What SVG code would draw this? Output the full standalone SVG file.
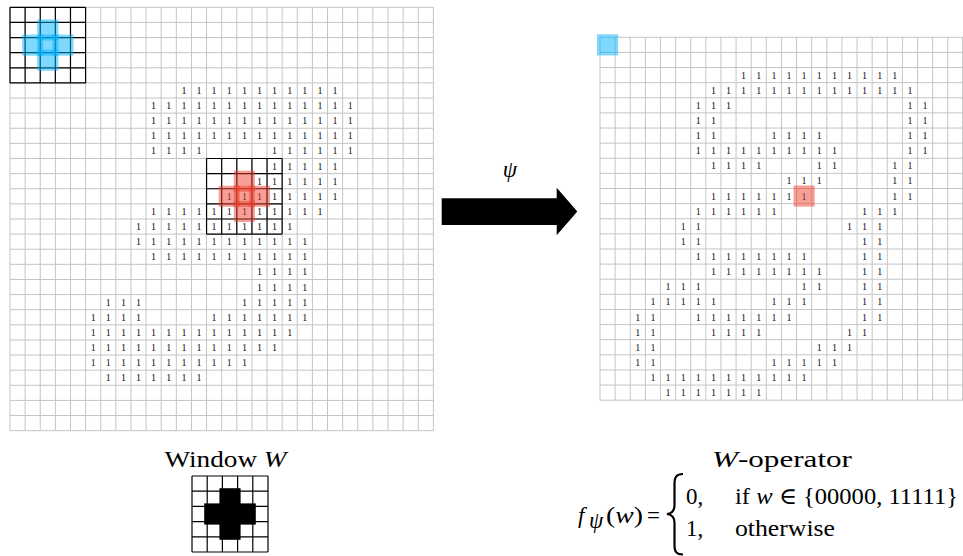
<svg xmlns="http://www.w3.org/2000/svg" width="963" height="556" viewBox="0 0 963 556">
<style>
.g{fill:none;stroke:#c4c4c4;stroke-width:1;vector-effect:non-scaling-stroke}
.k{fill:none;stroke:#000;stroke-width:1.2;vector-effect:non-scaling-stroke}
.o text{font-family:"Liberation Serif","DejaVu Serif",serif;font-size:10px;text-anchor:middle;fill:#111}
.hb{fill:#00b4ff;fill-opacity:.5}
.hr{fill:#f04030;fill-opacity:.5}
.t{font-family:"Liberation Serif","DejaVu Serif",serif;font-size:23px;fill:#000}
.i{font-style:italic}
</style>

<g id="input-image">
<g transform="translate(10 7.3) scale(15.12)">
<path class="g" d="M0 0V28M1 0V28M2 0V28M3 0V28M4 0V28M5 0V28M6 0V28M7 0V28M8 0V28M9 0V28M10 0V28M11 0V28M12 0V28M13 0V28M14 0V28M15 0V28M16 0V28M17 0V28M18 0V28M19 0V28M20 0V28M21 0V28M22 0V28M23 0V28M24 0V28M25 0V28M26 0V28M27 0V28M28 0V28M0 0H28M0 1H28M0 2H28M0 3H28M0 4H28M0 5H28M0 6H28M0 7H28M0 8H28M0 9H28M0 10H28M0 11H28M0 12H28M0 13H28M0 14H28M0 15H28M0 16H28M0 17H28M0 18H28M0 19H28M0 20H28M0 21H28M0 22H28M0 23H28M0 24H28M0 25H28M0 26H28M0 27H28M0 28H28"/>
<path class="k" d="M0 0V5M1 0V5M2 0V5M3 0V5M4 0V5M5 0V5M0 0H5M0 1H5M0 2H5M0 3H5M0 4H5M0 5H5"/>
<path class="k" d="M13 10V15M14 10V15M15 10V15M16 10V15M17 10V15M18 10V15M13 10H18M13 11H18M13 12H18M13 13H18M13 14H18M13 15H18"/>
</g>
<g class="o">
<g transform="translate(0 94)"><text x="183.9">1</text><text x="199">1</text><text x="214.1">1</text><text x="229.2">1</text><text x="244.4">1</text><text x="259.5">1</text><text x="274.6">1</text><text x="289.7">1</text><text x="304.8">1</text><text x="320">1</text><text x="335.1">1</text></g>
<g transform="translate(0 109.1)"><text x="153.6">1</text><text x="168.8">1</text><text x="183.9">1</text><text x="199">1</text><text x="214.1">1</text><text x="229.2">1</text><text x="244.4">1</text><text x="259.5">1</text><text x="274.6">1</text><text x="289.7">1</text><text x="304.8">1</text><text x="320">1</text><text x="335.1">1</text><text x="350.2">1</text></g>
<g transform="translate(0 124.2)"><text x="153.6">1</text><text x="168.8">1</text><text x="183.9">1</text><text x="199">1</text><text x="214.1">1</text><text x="229.2">1</text><text x="244.4">1</text><text x="259.5">1</text><text x="274.6">1</text><text x="289.7">1</text><text x="304.8">1</text><text x="320">1</text><text x="335.1">1</text><text x="350.2">1</text></g>
<g transform="translate(0 139.3)"><text x="153.6">1</text><text x="168.8">1</text><text x="183.9">1</text><text x="199">1</text><text x="214.1">1</text><text x="229.2">1</text><text x="244.4">1</text><text x="259.5">1</text><text x="274.6">1</text><text x="289.7">1</text><text x="304.8">1</text><text x="320">1</text><text x="335.1">1</text><text x="350.2">1</text></g>
<g transform="translate(0 154.4)"><text x="153.6">1</text><text x="168.8">1</text><text x="183.9">1</text><text x="199">1</text><text x="274.6">1</text><text x="289.7">1</text><text x="304.8">1</text><text x="320">1</text><text x="335.1">1</text><text x="350.2">1</text></g>
<g transform="translate(0 169.6)"><text x="274.6">1</text><text x="289.7">1</text><text x="304.8">1</text><text x="320">1</text><text x="335.1">1</text></g>
<g transform="translate(0 184.7)"><text x="259.5">1</text><text x="274.6">1</text><text x="289.7">1</text><text x="304.8">1</text><text x="320">1</text><text x="335.1">1</text></g>
<g transform="translate(0 199.8)"><text x="229.2">1</text><text x="244.4">1</text><text x="259.5">1</text><text x="274.6">1</text><text x="289.7">1</text><text x="304.8">1</text><text x="320">1</text><text x="335.1">1</text></g>
<g transform="translate(0 214.9)"><text x="153.6">1</text><text x="168.8">1</text><text x="183.9">1</text><text x="199">1</text><text x="214.1">1</text><text x="229.2">1</text><text x="244.4">1</text><text x="259.5">1</text><text x="274.6">1</text><text x="289.7">1</text><text x="304.8">1</text><text x="320">1</text></g>
<g transform="translate(0 230)"><text x="138.5">1</text><text x="153.6">1</text><text x="168.8">1</text><text x="183.9">1</text><text x="199">1</text><text x="214.1">1</text><text x="229.2">1</text><text x="244.4">1</text><text x="259.5">1</text><text x="274.6">1</text><text x="289.7">1</text></g>
<g transform="translate(0 245.2)"><text x="138.5">1</text><text x="153.6">1</text><text x="168.8">1</text><text x="183.9">1</text><text x="199">1</text><text x="214.1">1</text><text x="229.2">1</text><text x="244.4">1</text><text x="259.5">1</text><text x="274.6">1</text><text x="289.7">1</text><text x="304.8">1</text></g>
<g transform="translate(0 260.3)"><text x="153.6">1</text><text x="168.8">1</text><text x="183.9">1</text><text x="199">1</text><text x="214.1">1</text><text x="229.2">1</text><text x="244.4">1</text><text x="259.5">1</text><text x="274.6">1</text><text x="289.7">1</text><text x="304.8">1</text></g>
<g transform="translate(0 275.4)"><text x="259.5">1</text><text x="274.6">1</text><text x="289.7">1</text><text x="304.8">1</text></g>
<g transform="translate(0 290.5)"><text x="259.5">1</text><text x="274.6">1</text><text x="289.7">1</text><text x="304.8">1</text></g>
<g transform="translate(0 305.6)"><text x="108.3">1</text><text x="123.4">1</text><text x="138.5">1</text><text x="244.4">1</text><text x="259.5">1</text><text x="274.6">1</text><text x="289.7">1</text><text x="304.8">1</text></g>
<g transform="translate(0 320.8)"><text x="93.2">1</text><text x="108.3">1</text><text x="123.4">1</text><text x="138.5">1</text><text x="214.1">1</text><text x="229.2">1</text><text x="244.4">1</text><text x="259.5">1</text><text x="274.6">1</text><text x="289.7">1</text><text x="304.8">1</text></g>
<g transform="translate(0 335.9)"><text x="93.2">1</text><text x="108.3">1</text><text x="123.4">1</text><text x="138.5">1</text><text x="153.6">1</text><text x="168.8">1</text><text x="183.9">1</text><text x="199">1</text><text x="214.1">1</text><text x="229.2">1</text><text x="244.4">1</text><text x="259.5">1</text><text x="274.6">1</text><text x="289.7">1</text></g>
<g transform="translate(0 351)"><text x="93.2">1</text><text x="108.3">1</text><text x="123.4">1</text><text x="138.5">1</text><text x="153.6">1</text><text x="168.8">1</text><text x="183.9">1</text><text x="199">1</text><text x="214.1">1</text><text x="229.2">1</text><text x="244.4">1</text><text x="259.5">1</text><text x="274.6">1</text></g>
<g transform="translate(0 366.1)"><text x="93.2">1</text><text x="108.3">1</text><text x="123.4">1</text><text x="138.5">1</text><text x="153.6">1</text><text x="168.8">1</text><text x="183.9">1</text><text x="199">1</text><text x="214.1">1</text><text x="229.2">1</text><text x="244.4">1</text></g>
<g transform="translate(0 381.2)"><text x="108.3">1</text><text x="123.4">1</text><text x="138.5">1</text><text x="153.6">1</text><text x="168.8">1</text><text x="183.9">1</text><text x="199">1</text></g>
</g>
<g id="input-window-blue">
<rect class="hb" x="37.24" y="19.42" width="21.12" height="21.12"/>
<rect class="hb" x="22.12" y="34.54" width="21.12" height="21.12"/>
<rect class="hb" x="37.24" y="34.54" width="21.12" height="21.12"/>
<rect class="hb" x="52.36" y="34.54" width="21.12" height="21.12"/>
<rect class="hb" x="37.24" y="49.66" width="21.12" height="21.12"/>
</g>
<g id="input-window-red">
<rect class="hr" x="233.8" y="170.62" width="21.12" height="21.12"/>
<rect class="hr" x="218.68" y="185.74" width="21.12" height="21.12"/>
<rect class="hr" x="233.8" y="185.74" width="21.12" height="21.12"/>
<rect class="hr" x="248.92" y="185.74" width="21.12" height="21.12"/>
<rect class="hr" x="233.8" y="200.86" width="21.12" height="21.12"/>
</g>
</g>

<g id="connectors">
<polygon points="441.7,198.3 556.7,198.3 556.7,187.7 577.3,211.5 556.7,235.2 556.7,225 441.7,225" fill="#000"/>
<text class="t i" x="510" y="177" text-anchor="middle" font-size="26">ψ</text>
</g>

<g id="output-image">
<g transform="translate(600 37.3) scale(15.12)">
<path class="g" d="M0 0V24M1 0V24M2 0V24M3 0V24M4 0V24M5 0V24M6 0V24M7 0V24M8 0V24M9 0V24M10 0V24M11 0V24M12 0V24M13 0V24M14 0V24M15 0V24M16 0V24M17 0V24M18 0V24M19 0V24M20 0V24M21 0V24M22 0V24M23 0V24M23.97 0V24M0 0H24M0 1H24M0 2H24M0 3H24M0 4H24M0 5H24M0 6H24M0 7H24M0 8H24M0 9H24M0 10H24M0 11H24M0 12H24M0 13H24M0 14H24M0 15H24M0 16H24M0 17H24M0 18H24M0 19H24M0 20H24M0 21H24M0 22H24M0 23H24M0 24H24"/>
</g>
<g class="o">
<g transform="translate(0 78.6)"><text x="743.6">1</text><text x="758.8">1</text><text x="773.9">1</text><text x="789">1</text><text x="804.1">1</text><text x="819.2">1</text><text x="834.4">1</text><text x="849.5">1</text><text x="864.6">1</text><text x="879.7">1</text><text x="894.8">1</text></g>
<g transform="translate(0 93.7)"><text x="713.4">1</text><text x="728.5">1</text><text x="743.6">1</text><text x="758.8">1</text><text x="773.9">1</text><text x="789">1</text><text x="804.1">1</text><text x="819.2">1</text><text x="834.4">1</text><text x="849.5">1</text><text x="864.6">1</text><text x="879.7">1</text><text x="894.8">1</text><text x="910">1</text></g>
<g transform="translate(0 108.8)"><text x="698.3">1</text><text x="713.4">1</text><text x="728.5">1</text><text x="910">1</text><text x="925.1">1</text></g>
<g transform="translate(0 124)"><text x="698.3">1</text><text x="713.4">1</text><text x="910">1</text><text x="925.1">1</text></g>
<g transform="translate(0 139.1)"><text x="698.3">1</text><text x="713.4">1</text><text x="773.9">1</text><text x="789">1</text><text x="804.1">1</text><text x="819.2">1</text><text x="910">1</text><text x="925.1">1</text></g>
<g transform="translate(0 154.2)"><text x="698.3">1</text><text x="713.4">1</text><text x="728.5">1</text><text x="743.6">1</text><text x="758.8">1</text><text x="773.9">1</text><text x="789">1</text><text x="804.1">1</text><text x="819.2">1</text><text x="834.4">1</text><text x="910">1</text><text x="925.1">1</text></g>
<g transform="translate(0 169.3)"><text x="713.4">1</text><text x="728.5">1</text><text x="743.6">1</text><text x="758.8">1</text><text x="819.2">1</text><text x="834.4">1</text><text x="894.8">1</text><text x="910">1</text></g>
<g transform="translate(0 184.4)"><text x="789">1</text><text x="804.1">1</text><text x="819.2">1</text><text x="894.8">1</text><text x="910">1</text></g>
<g transform="translate(0 199.6)"><text x="713.4">1</text><text x="728.5">1</text><text x="743.6">1</text><text x="758.8">1</text><text x="773.9">1</text><text x="789">1</text><text x="804.1">1</text><text x="894.8">1</text><text x="910">1</text></g>
<g transform="translate(0 214.7)"><text x="698.3">1</text><text x="713.4">1</text><text x="728.5">1</text><text x="743.6">1</text><text x="758.8">1</text><text x="773.9">1</text><text x="864.6">1</text><text x="879.7">1</text><text x="894.8">1</text></g>
<g transform="translate(0 229.8)"><text x="683.2">1</text><text x="698.3">1</text><text x="849.5">1</text><text x="864.6">1</text><text x="879.7">1</text></g>
<g transform="translate(0 244.9)"><text x="683.2">1</text><text x="698.3">1</text><text x="864.6">1</text><text x="879.7">1</text></g>
<g transform="translate(0 260)"><text x="698.3">1</text><text x="713.4">1</text><text x="728.5">1</text><text x="743.6">1</text><text x="758.8">1</text><text x="773.9">1</text><text x="789">1</text><text x="804.1">1</text><text x="864.6">1</text><text x="879.7">1</text></g>
<g transform="translate(0 275.2)"><text x="713.4">1</text><text x="728.5">1</text><text x="743.6">1</text><text x="758.8">1</text><text x="773.9">1</text><text x="789">1</text><text x="804.1">1</text><text x="819.2">1</text><text x="864.6">1</text><text x="879.7">1</text></g>
<g transform="translate(0 290.3)"><text x="668">1</text><text x="683.2">1</text><text x="698.3">1</text><text x="804.1">1</text><text x="819.2">1</text><text x="864.6">1</text><text x="879.7">1</text></g>
<g transform="translate(0 305.4)"><text x="652.9">1</text><text x="668">1</text><text x="683.2">1</text><text x="698.3">1</text><text x="713.4">1</text><text x="773.9">1</text><text x="789">1</text><text x="804.1">1</text><text x="864.6">1</text><text x="879.7">1</text></g>
<g transform="translate(0 320.5)"><text x="637.8">1</text><text x="652.9">1</text><text x="698.3">1</text><text x="713.4">1</text><text x="728.5">1</text><text x="743.6">1</text><text x="758.8">1</text><text x="773.9">1</text><text x="789">1</text><text x="864.6">1</text><text x="879.7">1</text></g>
<g transform="translate(0 335.6)"><text x="637.8">1</text><text x="652.9">1</text><text x="713.4">1</text><text x="728.5">1</text><text x="743.6">1</text><text x="758.8">1</text><text x="849.5">1</text><text x="864.6">1</text></g>
<g transform="translate(0 350.8)"><text x="637.8">1</text><text x="652.9">1</text><text x="819.2">1</text><text x="834.4">1</text><text x="849.5">1</text></g>
<g transform="translate(0 365.9)"><text x="637.8">1</text><text x="652.9">1</text><text x="773.9">1</text><text x="789">1</text><text x="804.1">1</text><text x="819.2">1</text><text x="834.4">1</text></g>
<g transform="translate(0 381)"><text x="652.9">1</text><text x="668">1</text><text x="683.2">1</text><text x="698.3">1</text><text x="713.4">1</text><text x="728.5">1</text><text x="743.6">1</text><text x="758.8">1</text><text x="773.9">1</text><text x="789">1</text><text x="804.1">1</text></g>
<g transform="translate(0 396.1)"><text x="668">1</text><text x="683.2">1</text><text x="698.3">1</text><text x="713.4">1</text><text x="728.5">1</text><text x="743.6">1</text><text x="758.8">1</text></g>
</g>
<rect class="hb" x="597" y="34.3" width="21.12" height="21.12"/>
<rect class="hr" x="793.56" y="185.5" width="21.12" height="21.12"/>
</g>

<g id="window-W">
<text class="t" x="225.5" y="467" text-anchor="middle" textLength="122" lengthAdjust="spacingAndGlyphs">Window <tspan class="i">W</tspan></text>
<g transform="translate(192 476) scale(15.2)">
<path class="k" d="M0 0V5M1 0V5M2 0V5M3 0V5M4 0V5M5 0V5M0 0H5M0 1H5M0 2H5M0 3H5M0 4H5M0 5H5"/>
</g>
<rect x="219.4" y="488.2" width="21.2" height="51.6" fill="#000"/>
<rect x="204.2" y="503.4" width="51.6" height="21.2" fill="#000"/>
</g>

<g id="w-operator">
<text class="t" x="712" y="467" textLength="140" lengthAdjust="spacingAndGlyphs"><tspan class="i">W</tspan>-operator</text>
<text class="t i" x="578" y="523">f</text>
<text class="t i" x="589" y="528" font-size="16">ψ</text>
<text class="t" x="606" y="523" textLength="37" lengthAdjust="spacingAndGlyphs">(<tspan class="i">w</tspan>)</text>
<text class="t" x="647" y="523">=</text>
<path d="M683,474 C676.5,474 674.5,477 674.5,484 L674.5,505 C674.5,511 671.5,513.5 667,514 C671.5,514.5 674.5,517 674.5,523 L674.5,545 C674.5,552 676.5,554.5 683,554.5" fill="none" stroke="#000" stroke-width="2.2"/>
<text class="t" x="686" y="504">0,</text>
<text class="t" x="735" y="504" textLength="223" lengthAdjust="spacingAndGlyphs">if <tspan class="i">w</tspan> ∈ {00000, 11111}</text>
<text class="t" x="686" y="536">1,</text>
<text class="t" x="735" y="536" textLength="100" lengthAdjust="spacingAndGlyphs">otherwise</text>
</g>
</svg>
